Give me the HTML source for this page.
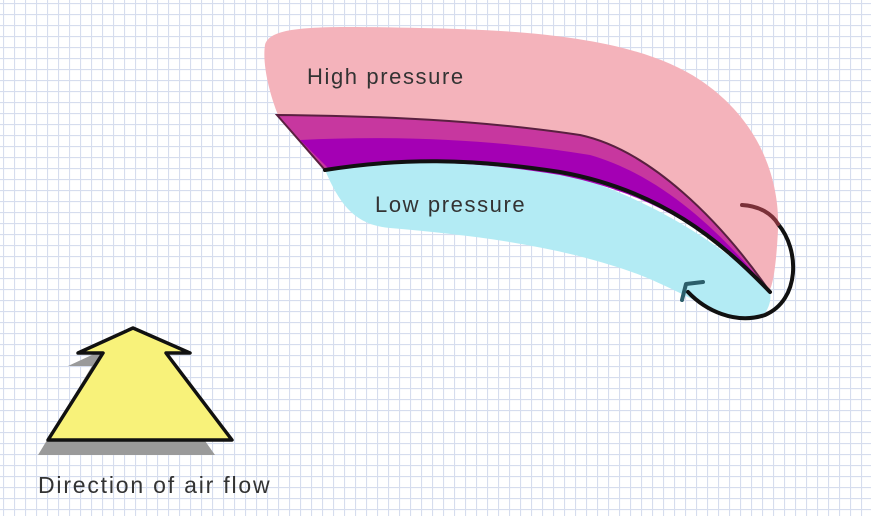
<!DOCTYPE html>
<html><head><meta charset="utf-8"><style>
html,body{margin:0;padding:0;width:871px;height:516px;overflow:hidden;background:#fff}
svg{display:block}
text{font-family:"Liberation Sans",sans-serif;fill:#333}
</style></head><body>
<svg width="871" height="516" viewBox="0 0 871 516">
<defs>
<pattern id="grid" width="11" height="11" patternUnits="userSpaceOnUse" x="3" y="3">
<path d="M0 0H11M0 0V11" stroke="#d6ddee" stroke-width="2.2" fill="none"/>
</pattern>
</defs>
<rect width="871" height="516" fill="url(#grid)"/>
<path fill="#f4b3bb" d="M265 45 C270 25 320 26 420 28 C540 30 640 40 700 80 C760 120 780 180 778 230 C776 270 772 290 768 292 C720 230 650 150 580 135 C480 122 380 116 278 115 C270 95 262 65 265 45 Z"/>
<path fill="#b3ebf4" d="M325 170 C420 152 520 160 600 185 C680 215 740 260 770 292 C772 300 768 318 752 320 C720 318 690 295 640 275 C560 245 470 235 390 228 C355 225 340 205 325 170 Z"/>
<path fill="#c7379f" stroke="#5a2040" stroke-width="2" d="M277 115 C380 116 480 120 580 135 C650 150 720 220 770 292 C720 240 660 190 560 172 C470 158 400 158 325 170 Z"/>
<path fill="#a400b4" d="M300 140 C400 135 500 140 590 155 C660 175 720 230 768 290 C720 240 660 195 560 175 C470 160 400 160 328 168 Z"/>
<path fill="none" stroke="#111" stroke-width="4" stroke-linecap="round" d="M325 170 C400 158 470 158 560 172 C660 190 720 240 770 292"/>
<path fill="none" stroke="#111" stroke-width="4" stroke-linecap="round" d="M778 224 C800 250 800 300 765 315 C735 325 705 310 688 292"/>
<path fill="none" stroke="#7a3038" stroke-width="4" stroke-linecap="round" d="M742 205 C760 206 772 214 778 224"/>
<path fill="none" stroke="#2c5e6a" stroke-width="4" stroke-linecap="round" stroke-linejoin="round" d="M682 300 L686 284 L703 282"/>
<text x="307" y="84" font-size="22" letter-spacing="1.6">High pressure</text>
<text x="375" y="212" font-size="22" letter-spacing="1.6">Low pressure</text>
<polygon fill="#9a9a9a" points="120,342 175,366 152,366 215,455 38,455 92,366 68,366"/>
<polygon fill="#f8f27a" stroke="#111" stroke-width="3.5" stroke-linejoin="round" points="133,328 190,353 166,353 232,440 48,440 103,353 78,353"/>
<text x="38" y="493" font-size="23" letter-spacing="1.8">Direction of air flow</text>
</svg>
</body></html>
